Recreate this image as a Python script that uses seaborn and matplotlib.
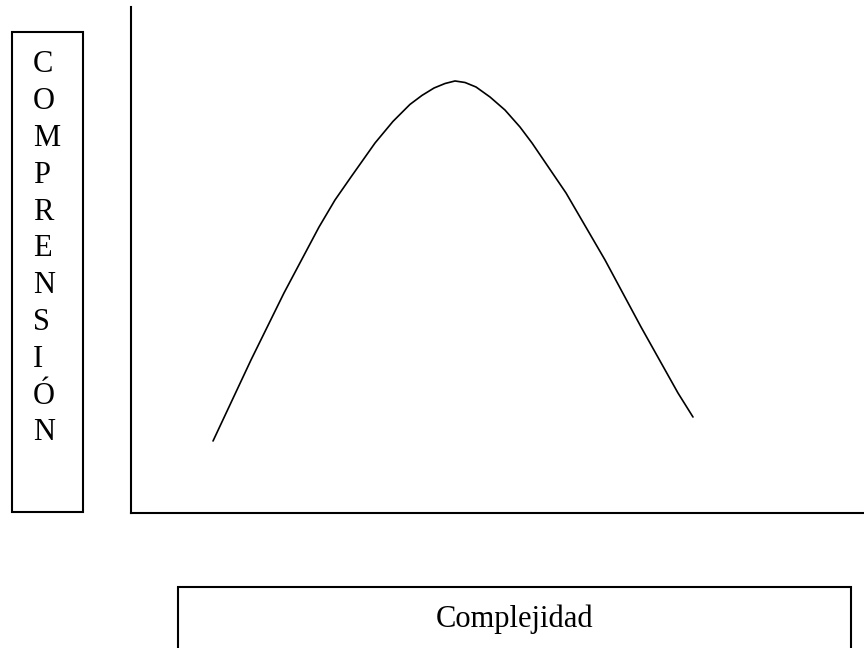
import matplotlib
matplotlib.use("Agg")
import matplotlib.pyplot as plt
from matplotlib.patches import Rectangle
import seaborn as sns
import pandas as pd

# Data (arbitrary 0-100 units)
complejidad = [11.19, 16.37, 20.87, 25.65, 27.83, 30.01, 33.29, 35.74, 38.06, 39.70,
               41.34, 42.84, 44.20, 45.57, 47.07, 48.98, 51.02, 53.07, 54.71, 59.35,
               64.67, 69.58, 74.62, 76.67]
comprension = [14.23, 30.24, 43.48, 56.52, 61.86, 66.40, 73.12, 77.39, 80.75, 82.53,
               83.99, 84.88, 85.38, 85.08, 84.19, 82.21, 79.64, 76.28, 73.12, 63.24,
               50.00, 36.76, 23.72, 18.97]
y_label = "COMPRENSIÓN"
x_label = "Complejidad"

sns.set_theme(style="white")
plt.rcParams["font.family"] = ["Liberation Serif", "DejaVu Serif"]

W, H = 864, 648
fig = plt.figure(figsize=(8.64, 6.48), dpi=100)
fig.patch.set_facecolor("white")

# axes: left spine at x=131, bottom spine at y=513, top at y=7, right to edge
ax = fig.add_axes([131 / W, (H - 513) / H, (W - 131) / W, (513 - 7) / H])
ax.set_facecolor("white")

df = pd.DataFrame({"x": complejidad, "y": comprension})
sns.lineplot(data=df, x="x", y="y", ax=ax, color="black", linewidth=1.2,
             sort=False, estimator=None)

ax.set_xlim(0, 100)
ax.set_ylim(0, 100)
ax.set_xticks([])
ax.set_yticks([])
ax.set_xlabel("")
ax.set_ylabel("")
sns.despine(ax=ax, top=True, right=True)
for s in ("left", "bottom"):
    ax.spines[s].set_color("black")
    ax.spines[s].set_linewidth(1.5)
    ax.spines[s].set_capstyle("projecting")

# left box with vertical letters
fig.patches.append(Rectangle((12 / W, (H - 512) / H), (83 - 12) / W, (512 - 32) / H,
                             transform=fig.transFigure, fill=False,
                             edgecolor="black", linewidth=1.5))
for i, ch in enumerate(y_label):
    baseline = 72.5 + 36.8 * i
    fig.text(33 / W, (H - baseline) / H, ch, fontsize=22, color="black",
             ha="left", va="baseline")

# bottom box with x label (extends past bottom edge)
fig.patches.append(Rectangle((178 / W, (H - 680) / H), (851 - 178) / W, (680 - 587) / H,
                             transform=fig.transFigure, fill=False,
                             edgecolor="black", linewidth=1.5))
fig.text(514.5 / W, (H - 627) / H, x_label, fontsize=22, color="black",
         ha="center", va="baseline")

fig.savefig("out.png", dpi=100)
